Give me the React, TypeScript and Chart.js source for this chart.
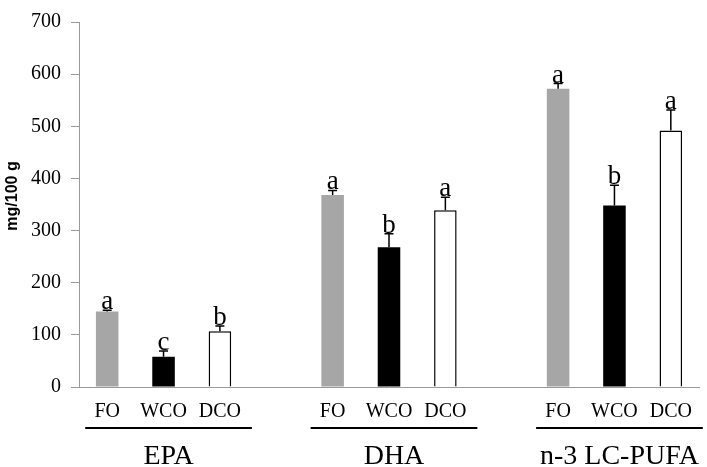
import React, { useEffect, useRef } from "react";
import { Chart, registerables } from "chart.js";

Chart.register(...registerables);

const treatments = ["FO", "WCO", "DCO"];
const groups = ["EPA", "DHA", "n-3 LC-PUFA"];
const foMeans = [145, 368, 572];
const wcoMeans = [58, 268, 348];
const dcoMeans = [107, 339, 492];
const foErrors = [2, 9, 10];
const wcoErrors = [11, 26, 39];
const dcoErrors = [10, 25, 39];
const foLetters = ["a", "a", "a"];
const wcoLetters = ["c", "b", "b"];
const dcoLetters = ["b", "a", "a"];
const yTicks = [0, 100, 200, 300, 400, 500, 600, 700];

const SERIF = '"Liberation Serif", "Times New Roman", serif';

export default function App() {
  const ref = useRef<HTMLCanvasElement | null>(null);

  useEffect(() => {
    document.body.style.margin = "0";
    const labels: string[] = [];
    const values: (number | null)[] = [];
    const errs: (number | null)[] = [];
    const letters: string[] = [];
    const colors: string[] = [];
    const borders: string[] = [];
    const bw: number[] = [];
    const means = [foMeans, wcoMeans, dcoMeans];
    const errors = [foErrors, wcoErrors, dcoErrors];
    const lets = [foLetters, wcoLetters, dcoLetters];
    const fills = ["#a6a6a6", "#000000", "#ffffff"];
    const strokes = ["#a6a6a6", "#000000", "#000000"];
    const widths = [0, 0, 1.5];
    groups.forEach((g, gi) => {
      if (gi > 0) {
        labels.push("");
        values.push(null);
        errs.push(null);
        letters.push("");
        colors.push("#fff");
        borders.push("#fff");
        bw.push(0);
      }
      treatments.forEach((t, ti) => {
        labels.push(t);
        values.push(means[ti][gi]);
        errs.push(errors[ti][gi]);
        letters.push(lets[ti][gi]);
        colors.push(fills[ti]);
        borders.push(strokes[ti]);
        bw.push(widths[ti]);
      });
    });

    const annot = {
      id: "annot",
      afterDatasetsDraw(chart: any) {
        const ctx = chart.ctx;
        const meta = chart.getDatasetMeta(0);
        const yScale = chart.scales.y;
        ctx.save();
        meta.data.forEach((el: any, i: number) => {
          const v = values[i];
          const e = errs[i];
          if (v == null || e == null) return;
          const x = el.x;
          const yTop = yScale.getPixelForValue(v);
          const yErr = yScale.getPixelForValue(v + e);
          ctx.strokeStyle = "#000";
          ctx.lineWidth = 1.5;
          ctx.beginPath();
          ctx.moveTo(x, yTop);
          ctx.lineTo(x, yErr);
          ctx.moveTo(x - 4.5, yErr);
          ctx.lineTo(x + 4.5, yErr);
          ctx.stroke();
          ctx.fillStyle = "#000";
          ctx.font = `27px ${SERIF}`;
          ctx.textAlign = "center";
          ctx.textBaseline = "alphabetic";
          ctx.fillText(letters[i], x, yErr - 1);
        });
        // group underlines and labels
        const xScale = chart.scales.x;
        groups.forEach((g, gi) => {
          const first = gi * 4;
          const last = gi * 4 + 2;
          const x0 = xScale.getPixelForValue(first) - 22;
          const x1 = xScale.getPixelForValue(last) + 32;
          ctx.strokeStyle = "#000";
          ctx.lineWidth = 2.2;
          ctx.beginPath();
          ctx.moveTo(x0, 428);
          ctx.lineTo(x1, 428);
          ctx.stroke();
          ctx.font = `28px ${SERIF}`;
          ctx.textAlign = "center";
          ctx.textBaseline = "alphabetic";
          ctx.fillText(g, (x0 + x1) / 2, 464);
        });
        // y axis title
        ctx.translate(13, 196);
        ctx.rotate(-Math.PI / 2);
        ctx.font = `bold 16px "Liberation Sans", Arial, sans-serif`;
        ctx.textAlign = "center";
        ctx.textBaseline = "middle";
        ctx.fillText("mg/100 g", 0, 0);
        ctx.restore();
      },
    };

    const chart = new Chart(ref.current as HTMLCanvasElement, {
      type: "bar",
      data: {
        labels,
        datasets: [
          {
            data: values,
            backgroundColor: colors,
            borderColor: borders,
            borderWidth: bw,
            barPercentage: 0.4,
            categoryPercentage: 1.0,
          },
        ],
      },
      options: {
        animation: false,
        responsive: false,
        maintainAspectRatio: false,
        layout: { padding: { top: 11, right: 8, left: 0, bottom: 0 } },
        plugins: {
          legend: { display: false },
          tooltip: { enabled: false },
        },
        scales: {
          x: {
            grid: { display: true, drawOnChartArea: false, drawTicks: false, color: "rgba(0,0,0,0)" },
            border: { display: true, color: "#9a9a9a", width: 1 },
            ticks: {
              color: "#000",
              font: { family: SERIF, size: 20 },
              padding: 13,
              maxRotation: 0,
              autoSkip: false,
            },
            afterFit: (s: any) => {
              s.height = 80;
            },
          },
          y: {
            min: 0,
            max: 700,
            afterBuildTicks: (s: any) => {
              s.ticks = yTicks.map((v) => ({ value: v }));
            },
            grid: { display: true, drawOnChartArea: false, drawTicks: true, tickLength: 8, color: "#9a9a9a" },
            border: { display: true, color: "#9a9a9a", width: 1 },
            ticks: {
              color: "#000",
              font: { family: SERIF, size: 20 },
              padding: 10,
            },
            afterFit: (s: any) => {
              s.width = 79;
            },
          },
        },
      },
      plugins: [annot],
    });
    return () => chart.destroy();
  }, []);

  return <canvas ref={ref} width={707} height={467} style={{ display: "block" }} />;
}
